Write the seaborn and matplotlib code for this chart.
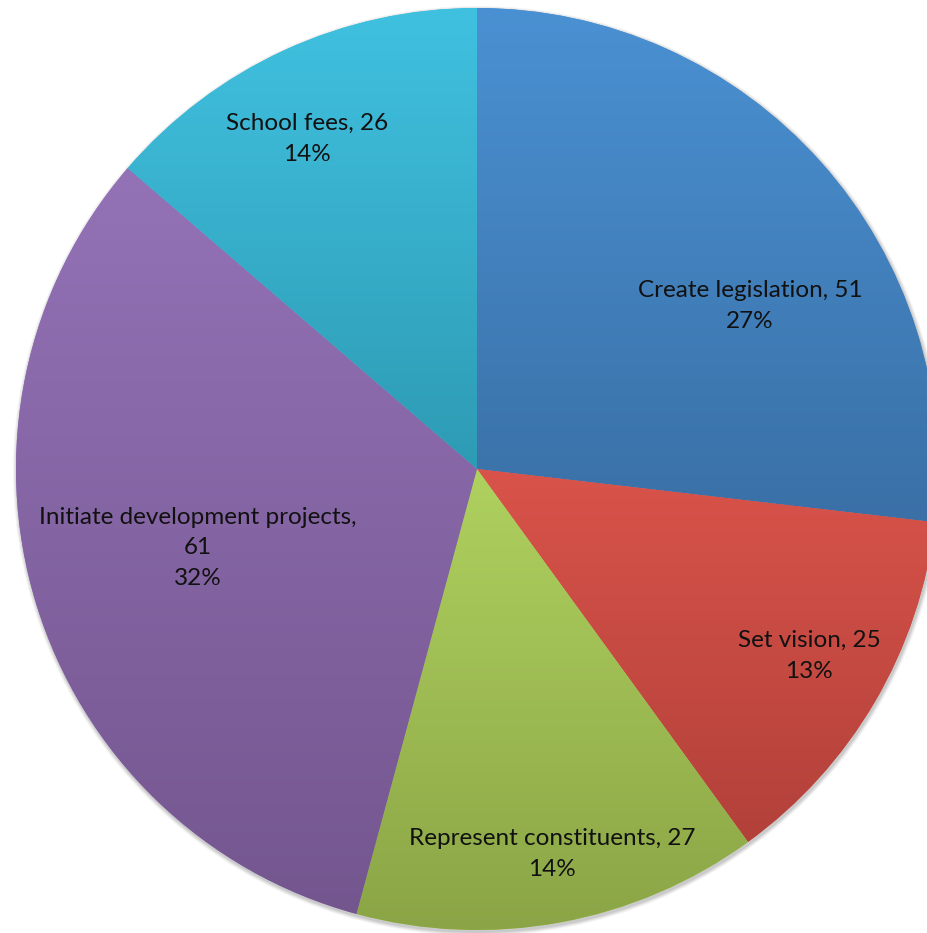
import textwrap
import numpy as np
import matplotlib
matplotlib.use("Agg")
import matplotlib.pyplot as plt
from matplotlib.colors import LinearSegmentedColormap
from matplotlib.patches import Circle
import seaborn as sns

# Survey responses: roles of the representative
categories = ["Create legislation", "Set vision", "Represent constituents",
              "Initiate development projects", "School fees"]
counts = [51, 25, 27, 61, 26]

# Slice fills: lighter shade at the top of each slice, darker at the bottom
top_colors = ["#4A91D3", "#D9534A", "#AFD15F", "#9372B6", "#40C1E0"]
bottom_colors = ["#3A70A6", "#B2413A", "#8BA546", "#74568F", "#2E9BB4"]

# Label anchor points (canvas pixels, y measured from the top)
label_xy = [(750, 306), (809, 656), (552, 854), (198, 548), (307, 139)]

W, H = 928, 933
CX, CY, R = 477, H - 469, 461

sns.set_theme(style="white")
plt.rcParams["font.family"] = ["Lato", "DejaVu Sans"]

fig = plt.figure(figsize=(W / 100, H / 100), dpi=100)
ax = fig.add_axes([0, 0, 1, 1])

# soft drop shadow under the pie
for i, a in enumerate([0.04, 0.05, 0.06, 0.07]):
    ax.add_patch(Circle((CX + 1, CY - 2), R + 4 - i, color="#000000",
                        alpha=a, lw=0, zorder=0))

palette = sns.color_palette(top_colors)
wedges, _ = ax.pie(counts, startangle=90, counterclock=False,
                   center=(CX, CY), radius=R, colors=palette,
                   wedgeprops=dict(linewidth=0), frame=True)

for w, c0, c1 in zip(wedges, top_colors, bottom_colors):
    th = np.radians(np.linspace(w.theta1, w.theta2, 200))
    ys = np.concatenate([[CY], CY + R * np.sin(th)])
    xs = np.concatenate([[CX], CX + R * np.cos(th)])
    cmap = LinearSegmentedColormap.from_list("g", [c1, c0])
    grad = np.linspace(0, 1, 256).reshape(-1, 1)
    im = ax.imshow(grad, cmap=cmap, origin="lower", aspect="auto",
                   extent=(xs.min(), xs.max(), ys.min(), ys.max()),
                   interpolation="bilinear", zorder=2)
    im.set_clip_path(w)

total = sum(counts)
for name, val, (lx, ly) in zip(categories, counts, label_xy):
    txt = textwrap.fill(f"{name}, {val}", width=32)
    txt += f"\n{round(100 * val / total)}%"
    ax.text(lx, H - ly, txt, ha="center", va="center", fontsize=17.5,
            color="#111111", linespacing=1.55, zorder=5)

ax.set_xlim(0, W)
ax.set_ylim(0, H)
ax.set_aspect("equal")
ax.axis("off")
fig.savefig("out.png", dpi=100)
